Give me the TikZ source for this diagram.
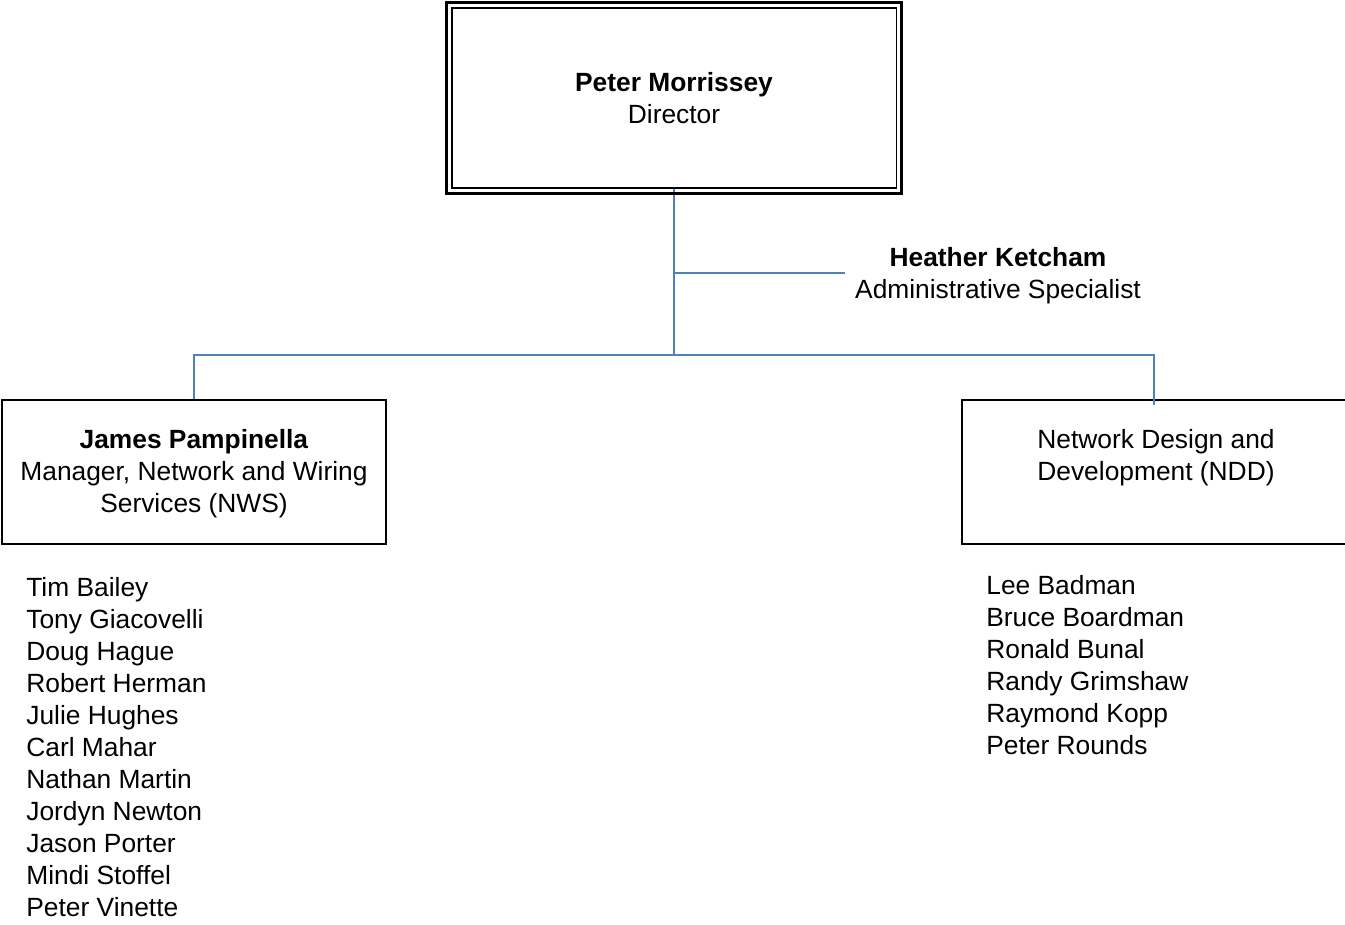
\documentclass[tikz,border=0pt]{standalone}
\usepackage{fontspec}
\setmainfont{Liberation Sans}
\usepackage{xcolor}
\definecolor{linkblue}{HTML}{4F81BD}

\begin{document}
\begin{tikzpicture}[x=0.02cm,y=-0.02cm,font=\fontsize{15}{18.2}\selectfont,
  box/.style={draw,line width=0.85pt,minimum width=7.68cm,minimum height=2.88cm,align=center},
  link/.style={draw=linkblue,line width=1pt},
  staff/.style={anchor=base west,inner sep=0pt}]
\useasboundingbox (0,0) rectangle (1345,924);
\clip (0,0) rectangle (1345,924);

% director and admin
\node[draw,line width=0.8pt,minimum width=8.89cm,minimum height=3.6cm,align=center] (dir) at (674,98) {\textbf{Peter Morrissey}\\Director};
\node[align=center] (hk) at (998,276) {\textbf{Heather Ketcham}\\Administrative Specialist};
\coordinate (hkin) at (845,273);

% the two groups
\node[box] (nws) at (194,472) {};
\node[align=center] (nwslbl) at (194,474) {\textbf{James Pampinella}\\Manager, Network and Wiring\\Services (NWS)};
\node[box] (ndd) at (1154,472) {};
\node[align=center] (nddlbl) at (1156,458) {Network Design and\\Development (NDD)};

\foreach \name [count=\i] in {Tim Bailey,Tony Giacovelli,Doug Hague,Robert Herman,Julie Hughes,Carl Mahar,Nathan Martin,Jordyn Newton,Jason Porter,Mindi Stoffel,Peter Vinette}
  \node[staff] (nws\i) at (26,{596+32*(\i-1)}) {\name};
\foreach \name [count=\i] in {Lee Badman,Bruce Boardman,Ronald Bunal,Randy Grimshaw,Raymond Kopp,Peter Rounds}
  \node[staff] (ndd\i) at (986,{594+32*(\i-1)}) {\name};

% connectors
\coordinate (hub) at (674,355);
\draw[link] (dir.south) -- (hub);
\draw[link] (dir.south |- hkin) -- (hkin);
\draw[link] (nws.north) |- (hub) -| ([shift={(0,6)}]ndd.north);

% double frame
\draw[line width=1.7pt] ([shift={(-5,-5)}]dir.north west) rectangle ([shift={(5,5)}]dir.south east);
\end{tikzpicture}
\end{document}
